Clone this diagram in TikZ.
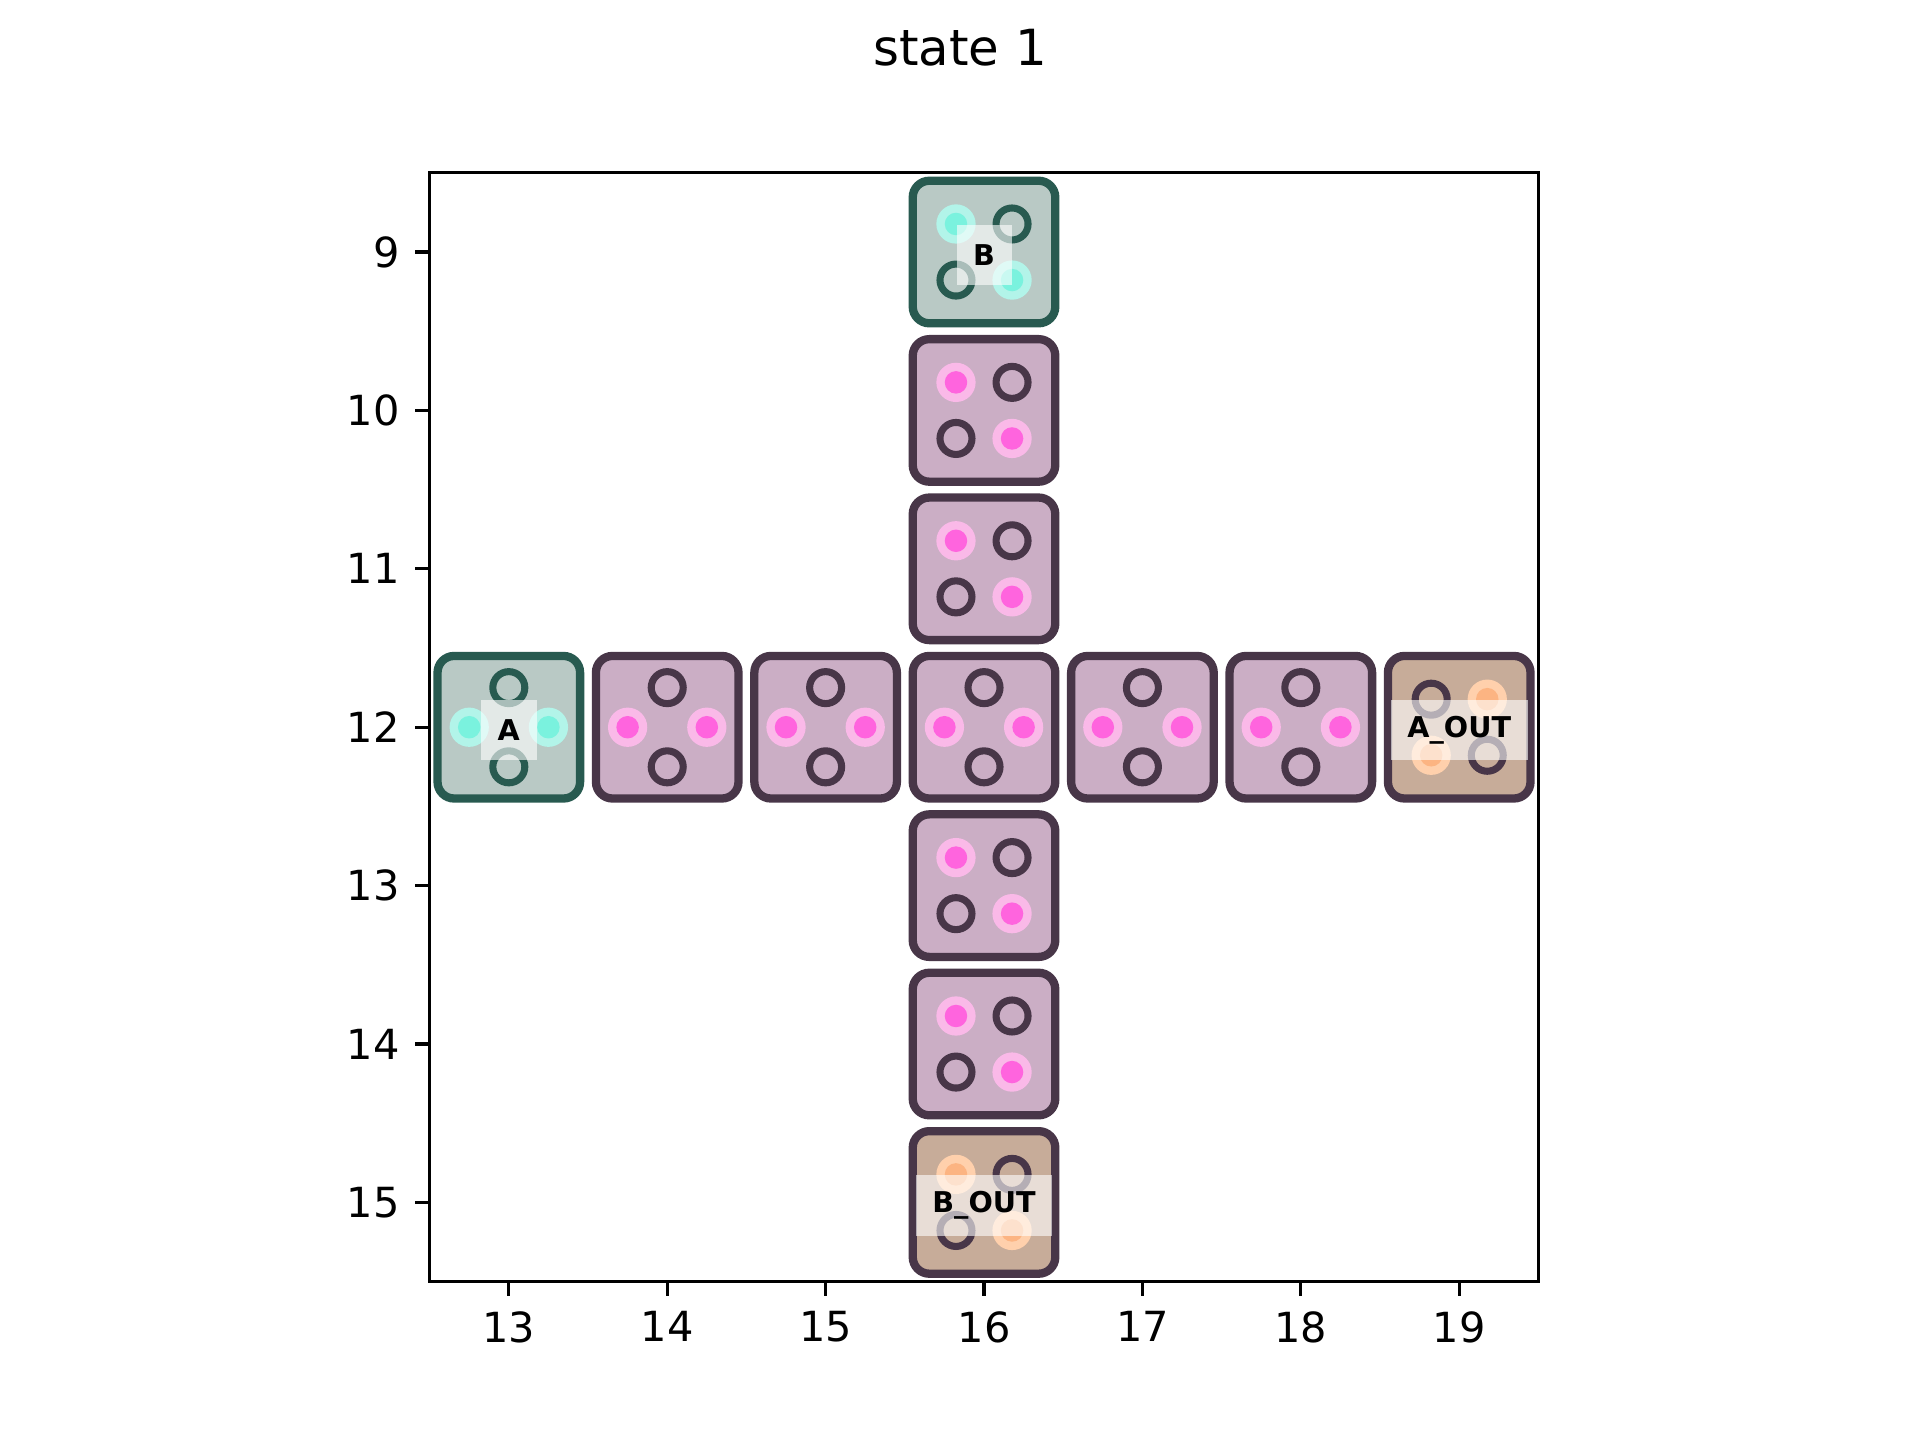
\documentclass[tikz,border=0pt]{standalone}
\usepackage{fontspec}
\setmainfont{DejaVu Sans}
\definecolor{TilePurple}{RGB}{203,174,197}
\definecolor{TileGreen}{RGB}{185,201,197}
\definecolor{TileBrown}{RGB}{199,172,153}
\definecolor{EdgePurple}{RGB}{72,54,72}
\definecolor{EdgeGreen}{RGB}{40,90,80}
\definecolor{PinkHalo}{RGB}{250,185,232}
\definecolor{PinkDot}{RGB}{255,100,222}
\definecolor{CyanHalo}{RGB}{178,244,233}
\definecolor{CyanDot}{RGB}{122,242,222}
\definecolor{OrangeHalo}{RGB}{255,208,172}
\definecolor{OrangeDot}{RGB}{252,180,130}
\tikzset{
  tile/.style={rectangle,rounded corners=4pt,minimum size=0.4752in,line width=2pt,inner sep=0pt},
  ring/.style={line width=1.7pt},
  lab/.style={fill=white,fill opacity=0.6,text opacity=1,inner xsep=4pt,inner ysep=0pt,yshift=-0.7pt,
    minimum height=14.6pt,font=\fontsize{6.9}{8}\selectfont\bfseries},
}
\tikzset{axtick/.style={line width=0.8pt}, ticklab/.style={inner sep=0pt,font=\fontsize{10}{12}\selectfont}}

\begin{document}
\begin{tikzpicture}[x=0.528in,y=-0.528in]
\useasboundingbox (9.7879,7.4091) rectangle (21.9091,16.5);
\node[anchor=north,inner sep=0pt,font=\fontsize{12}{14}\selectfont] (title) at (15.8485,7.5909) {state 1};
% tile A
\node[tile,draw=EdgeGreen,fill=TileGreen] (tA) at (13,12) {};
\fill[CyanHalo] (12.75,12) circle (0.124) (13.25,12) circle (0.124);
\fill[CyanDot] (12.75,12) circle (0.071) (13.25,12) circle (0.071);
\draw[ring,EdgeGreen] (13,11.75) circle (0.101) (13,12.25) circle (0.101);
% tile B
\node[tile,draw=EdgeGreen,fill=TileGreen] (tB) at (16,9) {};
\fill[CyanHalo] (15.823,8.823) circle (0.124) (16.177,9.177) circle (0.124);
\fill[CyanDot] (15.823,8.823) circle (0.071) (16.177,9.177) circle (0.071);
\draw[ring,EdgeGreen] (16.177,8.823) circle (0.101) (15.823,9.177) circle (0.101);
% row
\foreach \x in {14,...,18}{
  \node[tile,draw=EdgePurple,fill=TilePurple] (t\x-12) at (\x,12) {};
  \fill[PinkHalo] (\x-0.25,12) circle (0.124) (\x+0.25,12) circle (0.124);
  \fill[PinkDot] (\x-0.25,12) circle (0.071) (\x+0.25,12) circle (0.071);
  \draw[ring,EdgePurple] (\x,11.75) circle (0.101) (\x,12.25) circle (0.101);
}
% column
\foreach \y in {10,11,13,14}{
  \node[tile,draw=EdgePurple,fill=TilePurple] (t16-\y) at (16,\y) {};
  \fill[PinkHalo] (15.823,\y-0.177) circle (0.124) (16.177,\y+0.177) circle (0.124);
  \fill[PinkDot] (15.823,\y-0.177) circle (0.071) (16.177,\y+0.177) circle (0.071);
  \draw[ring,EdgePurple] (16.177,\y-0.177) circle (0.101) (15.823,\y+0.177) circle (0.101);
}
% tile A_OUT
\node[tile,draw=EdgePurple,fill=TileBrown] (tAout) at (19,12) {};
\fill[OrangeHalo] (19.177,11.823) circle (0.124) (18.823,12.177) circle (0.124);
\fill[OrangeDot] (19.177,11.823) circle (0.071) (18.823,12.177) circle (0.071);
\draw[ring,EdgePurple] (18.823,11.823) circle (0.101) (19.177,12.177) circle (0.101);
% tile B_OUT
\node[tile,draw=EdgePurple,fill=TileBrown] (tBout) at (16,15) {};
\fill[OrangeHalo] (15.823,14.823) circle (0.124) (16.177,15.177) circle (0.124);
\fill[OrangeDot] (15.823,14.823) circle (0.071) (16.177,15.177) circle (0.071);
\draw[ring,EdgePurple] (16.177,14.823) circle (0.101) (15.823,15.177) circle (0.101);
% labels
\node[lab] (labA) at (tA) {A};
\node[lab] (labB) at (tB) {B};
\node[lab] (labAout) at (tAout) {A\_OUT};
\node[lab] (labBout) at (tBout) {B\_OUT};
% axes
\draw[axtick] (12.5,8.5) rectangle (19.5,15.5);
\foreach \x in {13,...,19}{
  \draw[axtick] (\x,15.5) -- ++(0,-3.5pt);
  \node[ticklab,anchor=north,yshift=-7pt] (xl\x) at (\x,15.5) {\x};
}
\foreach \y in {9,...,15}{
  \draw[axtick] (12.5,\y) -- ++(-3.5pt,0);
  \node[ticklab,anchor=east,xshift=-7pt] (yl\y) at (12.5,\y) {\y};
}
\end{tikzpicture}
\end{document}
